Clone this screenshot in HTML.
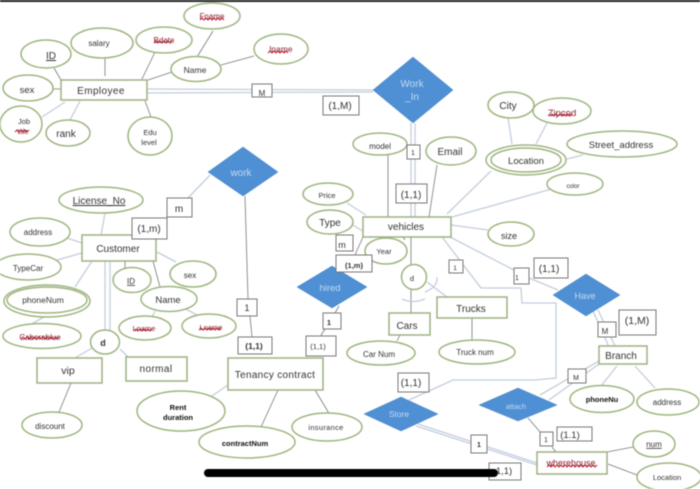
<!DOCTYPE html>
<html><head><meta charset="utf-8"><style>
html,body{margin:0;padding:0;background:#fff;width:700px;height:489px;overflow:hidden}
svg{display:block;filter:blur(.45px)}
text{font-family:"Liberation Sans",sans-serif;text-anchor:middle;fill:#333;font-size:9px}
.e{fill:#fff;stroke:#9db57f;stroke-width:1.5}
.r{fill:#fff;stroke:#9db082;stroke-width:1.5}
.b{fill:#fff;stroke:#777;stroke-width:1}
.d{fill:#4f8fd3;stroke:#4a86c5;stroke-width:.5}
.l{stroke:#c3cddd;stroke-width:1.3;fill:none}
.k{stroke:#777;stroke-width:.8;fill:none}
.w{fill:#c4dcf3;font-size:10px}
.z{stroke:#c02030;stroke-width:1;fill:none}
.red{fill:#8a2030}
</style></head><body>
<svg width="700" height="489" viewBox="0 0 700 489" xmlns="http://www.w3.org/2000/svg">
<rect x="0" y="0" width="700" height="2" fill="#222"/>
<!-- connectors -->
<g class="k">
<path d="M105 58V76M155 52L142 79M148 80L172 72M197 57L213 31M221 65L254 56M54 68L65 87M53 89H61M145 101L151 117"/>
<path d="M388 155V217M437 165L429 217M411 237V265M411 290V313M472 318V340M400 335L397 341"/>
<path d="M245 196L248 299M250 316L252 337M339 306L335 313M325 329L320 337M71 383L59 412M125 261V268M153 261L160 287M363 237L355 255M405 240L403 237"/>
<path d="M607 452L633 447M608 464L637 475M528 418L541 433M552 447L556 452M278 390L261 427M315 390L330 415"/>
</g>
<g class="l">
<path d="M147 89L373 90M147 93L373 92M411 123V217M415 123V217"/>
<path d="M42 117L65 102M70 120L80 101"/>
<path d="M491 171L447 214M508 118L512 144M547 123L536 144M567 159L583 155M555 188L452 217M451 225L488 230M347 203L366 215M353 225L364 232"/>
<path d="M427 282L447 297M402 299Q413 304 425 299M437 277Q438 287 425 292"/>
<path d="M450 237L514 270M529 278L558 290"/>
<path d="M442 237L481 288H521L522 303H556V378L535 380H453L409 400"/>
<path d="M593 311L609 347M598 310L615 346M599 361L540 395M599 364L549 400M617 366L601 386M635 366L655 388"/>
<path d="M418 424L537 463M416 426L537 465"/>
<path d="M105 213L101 235M67 238L82 243M57 260L82 253M92 261L75 287M44 317L33 323M157 252L176 262M155 311L152 317M184 308L197 315"/>
<path d="M105 261V330M110 261V331M92 348L75 358M120 349L128 357M210 175L188 198M228 385L212 396"/>
</g>
<!-- entities -->
<g class="r">
<rect x="61" y="80" width="86" height="20"/>
<rect x="363" y="217" width="88" height="20"/>
<rect x="82" y="235" width="74" height="26"/>
<rect x="37" y="358" width="65" height="25"/>
<rect x="126" y="357" width="61" height="24"/>
<rect x="228" y="358" width="95" height="32"/>
<rect x="389" y="313" width="41" height="22"/>
<rect x="437" y="297" width="70" height="21"/>
<rect x="599" y="346" width="48" height="18"/>
<rect x="537" y="452" width="70" height="22"/>
</g>
<!-- attributes -->
<g class="e">
<ellipse cx="212" cy="16" rx="28" ry="13"/>
<ellipse cx="102" cy="43" rx="31" ry="15"/>
<ellipse cx="164" cy="40" rx="28" ry="13"/>
<ellipse cx="281" cy="49" rx="27" ry="15"/>
<ellipse cx="196" cy="69" rx="25" ry="12.5"/>
<ellipse cx="46" cy="54" rx="25" ry="14"/>
<ellipse cx="28" cy="88" rx="25" ry="13"/>
<ellipse cx="21" cy="124" rx="21" ry="18"/>
<ellipse cx="68" cy="133" rx="22" ry="13"/>
<ellipse cx="150" cy="136" rx="22" ry="19"/>
<ellipse cx="380" cy="144" rx="27" ry="11"/>
<ellipse cx="451" cy="151" rx="25" ry="14"/>
<ellipse cx="511" cy="105" rx="23" ry="13"/>
<ellipse cx="562" cy="111" rx="29" ry="13"/>
<ellipse cx="526" cy="160" rx="40" ry="15"/>
<ellipse cx="526" cy="160" rx="35" ry="12"/>
<ellipse cx="622" cy="144" rx="55" ry="13"/>
<ellipse cx="575" cy="184" rx="28" ry="11"/>
<ellipse cx="511" cy="234" rx="23" ry="12"/>
<ellipse cx="101" cy="200" rx="42" ry="13"/>
<ellipse cx="40" cy="232" rx="30" ry="14"/>
<ellipse cx="28" cy="267" rx="33" ry="13"/>
<ellipse cx="132" cy="280" rx="19" ry="12.5"/>
<ellipse cx="193" cy="274" rx="23" ry="13"/>
<ellipse cx="47" cy="301" rx="43" ry="16"/>
<ellipse cx="47" cy="300" rx="40" ry="13"/>
<ellipse cx="169" cy="299" rx="28" ry="12.5"/>
<ellipse cx="42" cy="336" rx="39" ry="12.5"/>
<ellipse cx="145" cy="328" rx="26" ry="12"/>
<ellipse cx="209" cy="326" rx="27" ry="12"/>
<ellipse cx="105" cy="342" rx="14.5" ry="12"/>
<ellipse cx="52" cy="425" rx="30" ry="13"/>
<ellipse cx="181" cy="411" rx="44" ry="20"/>
<ellipse cx="247" cy="442" rx="48" ry="16"/>
<ellipse cx="327" cy="427" rx="35" ry="14"/>
<ellipse cx="328" cy="194" rx="25" ry="11"/>
<ellipse cx="330" cy="222" rx="23" ry="12"/>
<ellipse cx="386" cy="251" rx="21" ry="13"/>
<ellipse cx="414" cy="277" rx="12.5" ry="12.5"/>
<ellipse cx="381" cy="353" rx="34" ry="12"/>
<ellipse cx="477" cy="352" rx="38" ry="12"/>
<ellipse cx="602" cy="399" rx="32" ry="13.5"/>
<ellipse cx="668" cy="402" rx="31" ry="13"/>
<ellipse cx="654" cy="444" rx="21" ry="13"/>
<ellipse cx="669" cy="477" rx="32" ry="14"/>
</g>
<!-- relationships -->
<g class="d">
<polygon points="413,57 453,90 413,123 373,90"/>
<polygon points="243,147 278,172 243,196 208,172"/>
<polygon points="332,266 367,287 332,308 297,287"/>
<polygon points="586,274 620,295 586,316 553,295"/>
<polygon points="518,388 557,405 518,421 479,405"/>
<polygon points="401,397 438,414 401,431 364,414"/>
</g>
<!-- cardinality boxes -->
<g class="b">
<rect x="252" y="84" width="20" height="13"/>
<rect x="323" y="96" width="36" height="19"/>
<rect x="407" y="145" width="13" height="14"/>
<rect x="396" y="184" width="31" height="19"/>
<rect x="167" y="198" width="25" height="19"/>
<rect x="132" y="218" width="35" height="21"/>
<rect x="237" y="299" width="20" height="17"/>
<rect x="238" y="337" width="34" height="17"/>
<rect x="306" y="336" width="30" height="20"/>
<rect x="323" y="313" width="18" height="16"/>
<rect x="336" y="235" width="17" height="16"/>
<rect x="336" y="255" width="36" height="17"/>
<rect x="449" y="260" width="14" height="13"/>
<rect x="514" y="268" width="15" height="16"/>
<rect x="534" y="258" width="34" height="20"/>
<rect x="598" y="322" width="18" height="15"/>
<rect x="619" y="310" width="37" height="25"/>
<rect x="568" y="369" width="18" height="14"/>
<rect x="398" y="373" width="31" height="19"/>
<rect x="471" y="435" width="16" height="18"/>
<rect x="540" y="432" width="13" height="14"/>
<rect x="557" y="427" width="35" height="14"/>
<rect x="489" y="463" width="32" height="17"/>
</g>
<rect x="204" y="469" width="294" height="8" rx="4" fill="#000"/>
<!-- squiggles -->
<g class="z">
<path d="M200 20l2 -2 2 2 2 -2 2 2 2 -2 2 2 2 -2 2 2 2 -2 2 2 2 -2 2 2"/>
<path d="M154 43l2 -2 2 2 2 -2 2 2 2 -2 2 2 2 -2 2 2 2 -2"/>
<path d="M268 53l2 -2 2 2 2 -2 2 2 2 -2 2 2 2 -2 2 2 2 -2 2 2"/>
<path d="M550 116l2 -2 2 2 2 -2 2 2 2 -2 2 2 2 -2 2 2 2 -2 2 2 2 -2"/>
<path d="M15 132l2 -2 2 2 2 -2 2 2 2 -2 2 2 2 -2"/>
<path d="M21 339l2 -2 2 2 2 -2 2 2 2 -2 2 2 2 -2 2 2 2 -2 2 2 2 -2 2 2 2 -2 2 2 2 -2 2 2 2 -2 2 2 2 -2"/>
<path d="M134 331l2 -2 2 2 2 -2 2 2 2 -2 2 2 2 -2 2 2 2 -2"/>
<path d="M199 330l2 -2 2 2 2 -2 2 2 2 -2 2 2 2 -2 2 2 2 -2 2 2 2 -2"/>
<path d="M547 467l2 -2 2 2 2 -2 2 2 2 -2 2 2 2 -2 2 2 2 -2 2 2 2 -2 2 2 2 -2 2 2 2 -2 2 2 2 -2 2 2 2 -2 2 2 2 -2 2 2 2 -2 2 2 2 -2"/>
</g>
<!-- labels -->
<g>
<text x="212" y="19" class="red" style="font-size:8px">Fname</text>
<text x="99" y="46" style="font-size:8px">salary</text>
<text x="164" y="43" class="red" style="font-size:8px">Bdate</text>
<text x="281" y="52" class="red" style="font-size:8.5px">lname</text>
<text x="195" y="73" style="font-size:8.5px">Name</text>
<text x="51" y="59" style="font-size:10px;text-decoration:underline">ID</text>
<text x="27" y="93" style="font-size:9.5px">sex</text>
<text x="24" y="124" style="font-size:7.5px">Job</text>
<text x="23" y="134" class="red" style="font-size:7px">title</text>
<text x="66" y="137" style="font-size:10px">rank</text>
<text x="150" y="135" style="font-size:7.5px">Edu</text>
<text x="149" y="145" style="font-size:7.5px">level</text>
<text x="101" y="94" style="font-size:10px;letter-spacing:.4px">Employee</text>
<text x="262" y="96" style="font-size:8px">M</text>
<text x="340" y="109" style="font-size:10px">(1,M)</text>
<text x="412" y="87" class="w" style="font-size:10px">Work</text>
<text x="412" y="100" class="w" style="font-size:10px">_In</text>
<text x="380" y="149" style="font-size:8px">model</text>
<text x="413" y="155" style="font-size:7px">1</text>
<text x="450" y="155" style="font-size:10px">Email</text>
<text x="411" y="198" style="font-size:10px">(1,1)</text>
<text x="508" y="109" style="font-size:10px">City</text>
<text x="562" y="116" class="red" style="font-size:9.5px">Zipcod</text>
<text x="526" y="164" style="font-size:9.5px">Location</text>
<text x="621" y="148" style="font-size:9.5px">Street_address</text>
<text x="573" y="188" style="font-size:6px">color</text>
<text x="406" y="230" style="font-size:10px">vehicles</text>
<text x="509" y="239" style="font-size:9px">size</text>
<text x="241" y="176" class="w" style="font-size:10px">work</text>
<text x="99" y="204" style="font-size:10px;text-decoration:underline">License_No</text>
<text x="179" y="212" style="font-size:10px">m</text>
<text x="149" y="232" style="font-size:10px">(1,m)</text>
<text x="38" y="235" style="font-size:8px">address</text>
<text x="118" y="252" style="font-size:10px">Customer</text>
<text x="28" y="271" style="font-size:8px">TypeCar</text>
<text x="131" y="284" style="font-size:8px;text-decoration:underline">ID</text>
<text x="190" y="278" style="font-size:8px">sex</text>
<text x="43" y="303" style="font-size:8.5px">phoneNum</text>
<text x="168" y="303" style="font-size:9.5px">Name</text>
<text x="40" y="340" class="red" style="font-size:8px">Caboreblue</text>
<text x="144" y="331" class="red" style="font-size:7.5px">Lname</text>
<text x="211" y="330" class="red" style="font-size:7.5px">Lname</text>
<text x="103" y="346" style="font-size:9px;font-weight:bold">d</text>
<text x="68" y="374" style="font-size:10.5px">vip</text>
<text x="156" y="372" style="font-size:10px;letter-spacing:.4px">normal</text>
<text x="50" y="429" style="font-size:8px">discount</text>
<text x="275" y="378" style="font-size:10px;letter-spacing:.3px">Tenancy contract</text>
<text x="247" y="311" style="font-size:9px">1</text>
<text x="254" y="349" style="font-size:8.5px;font-weight:bold">(1,1)</text>
<text x="318" y="349" style="font-size:7.5px">(1,1)</text>
<text x="329" y="325" style="font-size:7.5px;font-weight:bold">1</text>
<text x="330" y="291" class="w" style="font-size:9.5px">hired</text>
<text x="178" y="410" style="font-size:7.5px;font-weight:bold;fill:#111">Rent</text>
<text x="178" y="420" style="font-size:7.5px;font-weight:bold;fill:#111">duration</text>
<text x="245" y="446" style="font-size:7.5px;font-weight:bold;fill:#111">contractNum</text>
<text x="326" y="430" style="font-size:7.5px;letter-spacing:.3px">insurance</text>
<text x="327" y="198" style="font-size:7.5px">Price</text>
<text x="330" y="226" style="font-size:10px">Type</text>
<text x="342" y="248" style="font-size:9px">m</text>
<text x="354" y="268" style="font-size:7.5px;font-weight:bold">(1,m)</text>
<text x="384" y="254" style="font-size:7.5px">Year</text>
<text x="412" y="281" style="font-size:7.5px">d</text>
<text x="407" y="329" style="font-size:10px">Cars</text>
<text x="471" y="312" style="font-size:10px">Trucks</text>
<text x="379" y="357" style="font-size:8px">Car Num</text>
<text x="475" y="355" style="font-size:8px">Truck num</text>
<text x="455" y="270" style="font-size:6.5px">1</text>
<text x="517" y="280" style="font-size:7px">1</text>
<text x="549" y="272" style="font-size:10px">(1,1)</text>
<text x="585" y="299" class="w" style="font-size:9px">Have</text>
<text x="605" y="334" style="font-size:8px">M</text>
<text x="637" y="324" style="font-size:10.5px">(1,M)</text>
<text x="621" y="359" style="font-size:10px">Branch</text>
<text x="576" y="380" style="font-size:7px">M</text>
<text x="602" y="402" style="font-size:7.5px;font-weight:bold;fill:#111">phoneNu</text>
<text x="667" y="405" style="font-size:8px">address</text>
<text x="516" y="409" class="w" style="font-size:7.5px">attach</text>
<text x="411" y="386" style="font-size:10px">(1,1)</text>
<text x="399" y="417" class="w" style="font-size:8.5px">Store</text>
<text x="479" y="447" style="font-size:7px;font-weight:bold">1</text>
<text x="546" y="442" style="font-size:7px">1</text>
<text x="570" y="438" style="font-size:9.5px">(1.1)</text>
<text x="654" y="447" style="font-size:8px;text-decoration:underline">num</text>
<text x="571" y="466" class="red" style="font-size:9px">wherehouse</text>
<text x="667" y="480" style="font-size:7.5px">Location</text>
<text x="504" y="474" style="font-size:9.5px">1,1)</text>
</g>
</svg>
</body></html>
